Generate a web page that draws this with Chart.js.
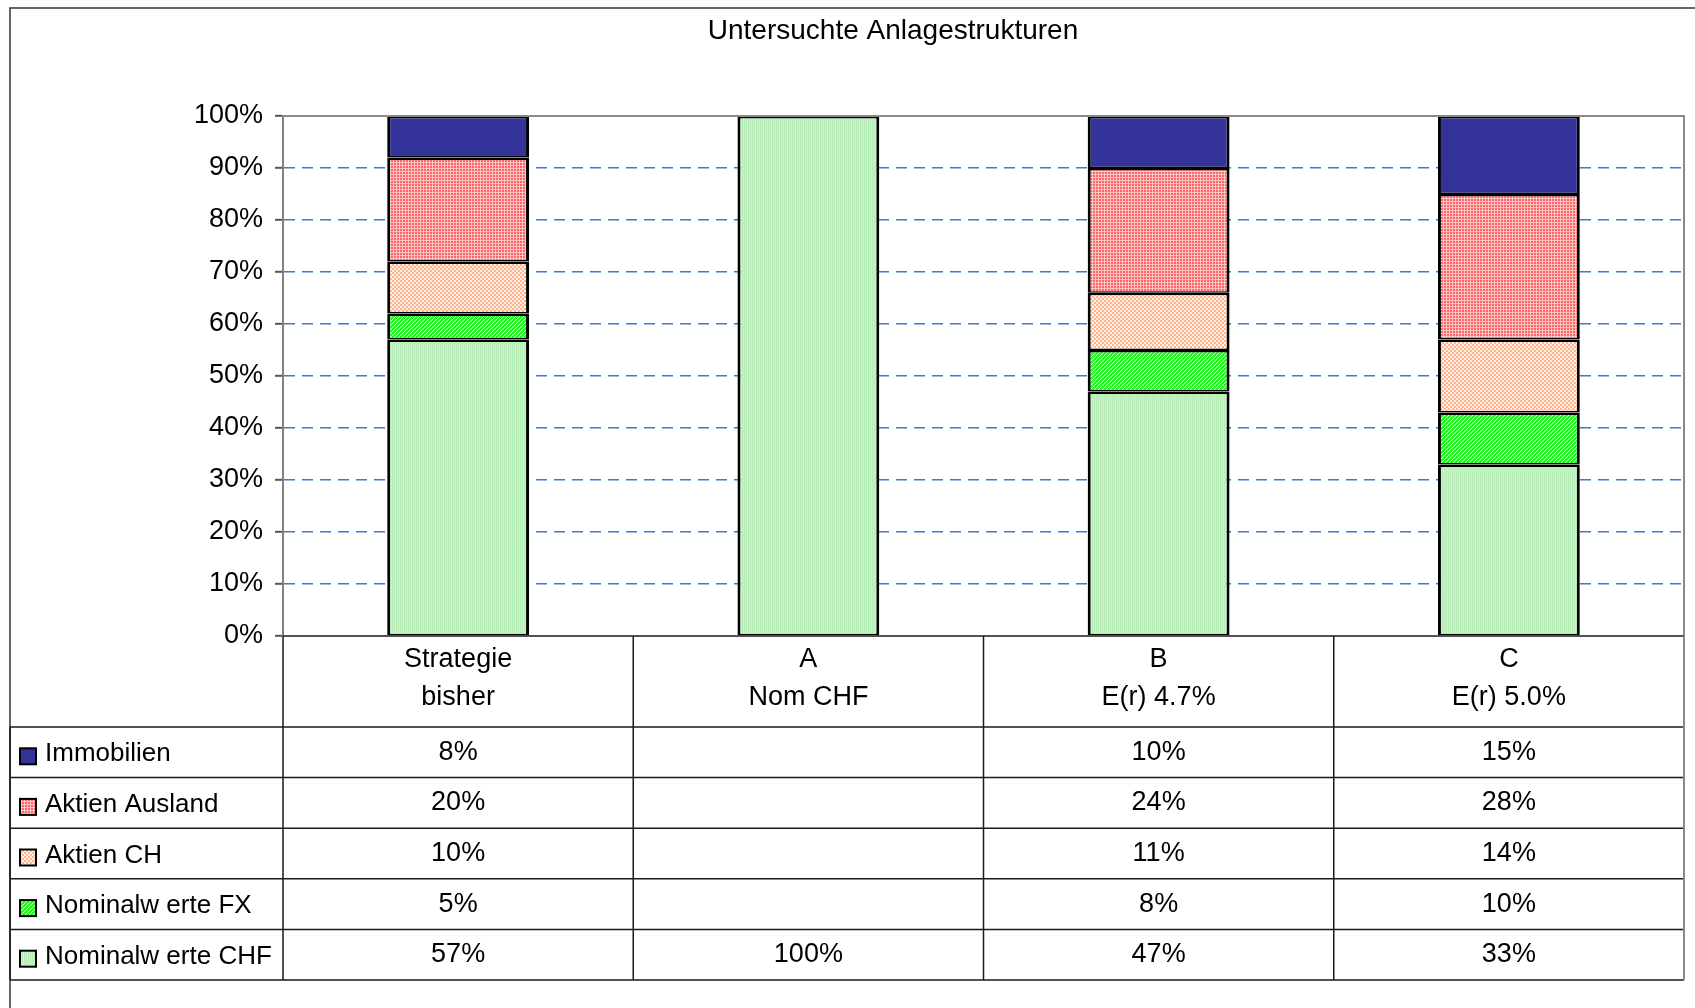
<!DOCTYPE html>
<html>
<head>
<meta charset="utf-8">
<script src="https://cdn.jsdelivr.net/npm/chart.js@4.4.1/dist/chart.umd.min.js"></script>
<style>
  html, body { margin: 0; padding: 0; background: #fff; }
  #wrap { position: relative; width: 1695px; height: 1008px; }
</style>
</head>
<body>
<div id="wrap"><canvas id="chart" width="1695" height="1008"></canvas></div>
<script>
// categories (two lines each) and the table series
const categories = [['Strategie', 'bisher'], ['A', 'Nom CHF'], ['B', 'E(r) 4.7%'], ['C', 'E(r) 5.0%']];
const immobilien = [8, null, 10, 15];
const aktienAusland = [20, null, 24, 28];
const aktienCH = [10, null, 11, 14];
const nominalFX = [5, null, 8, 10];
const nominalCHF = [57, 100, 47, 33];
const chartTitle = 'Untersuchte Anlagestrukturen';
const FAMILY = '"Liberation Sans", Arial, sans-serif';
const FONT = '27px ' + FAMILY;

// small pixel tiles to imitate the Excel fill patterns
function makePattern(w, h, bg, fg, cells) {
    const c = document.createElement('canvas');
    c.width = w; c.height = h;
    const g = c.getContext('2d');
    g.fillStyle = bg;
    g.fillRect(0, 0, w, h);
    g.fillStyle = fg;
    cells.forEach(p => g.fillRect(p[0], p[1], 1, 1));
    return g.createPattern(c, 'repeat');
}

const fillImmo = '#333399';
const fillAusland = makePattern(3, 3, '#ff6464', '#ffc4c4', [[0,0],[1,0],[2,0],[0,1],[0,2]]);
const fillCH = makePattern(4, 4, '#fff0e6', '#ffb68e', [[0,0],[1,0],[0,1],[1,1],[2,2],[3,2],[2,3],[3,3]]);
const fillFX = makePattern(4, 4, '#2ef02e', '#d4ffd4', [[3,0],[2,1],[1,2],[0,3]]);
const fillCHF = makePattern(4, 2, '#c8f5c8', '#a6e3a6', [[0,0],[2,1]]);

// table rows, top to bottom as in the reference
const tableRows = [
    { label: 'Immobilien', values: immobilien, fill: fillImmo },
    { label: 'Aktien Ausland', values: aktienAusland, fill: fillAusland },
    { label: 'Aktien CH', values: aktienCH, fill: fillCH },
    { label: 'Nominalw erte FX', values: nominalFX, fill: fillFX },
    { label: 'Nominalw erte CHF', values: nominalCHF, fill: fillCHF }
];

const barBorder = { top: 2.5, left: 3, right: 3, bottom: 1.5 };
function barSet(row) {
    return {
        label: row.label,
        data: row.values,
        backgroundColor: row.fill,
        borderColor: '#000',
        borderWidth: barBorder,
        borderSkipped: false,
        barPercentage: 0.405,
        categoryPercentage: 1
    };
}

// draws title, plot frame and the data table under the plot
const tablePlugin = {
    id: 'dataTable',
    afterDraw(chart) {
        const ctx = chart.ctx;
        const area = chart.chartArea;
        const x = chart.scales.x;
        const half = (x.getPixelForValue(1) - x.getPixelForValue(0)) / 2;
        const cols = [10, area.left];
        categories.forEach((c, i) => cols.push(x.getPixelForValue(i) + half));
        const headTop = area.bottom;
        const headBottom = 727;
        const rowH = (980 - headBottom) / tableRows.length;
        const tableBottom = headBottom + rowH * tableRows.length;

        ctx.save();
        // outer frame (left + top visible)
        ctx.strokeStyle = '#333';
        ctx.lineWidth = 1.5;
        ctx.beginPath();
        ctx.moveTo(10, 1008); ctx.lineTo(10, 8); ctx.lineTo(1695, 8);
        ctx.stroke();

        // title
        ctx.fillStyle = '#000';
        ctx.font = '28px ' + FAMILY;
        ctx.textAlign = 'center';
        ctx.textBaseline = 'middle';
        ctx.fillText(chartTitle, 893, 31);
        ctx.font = FONT;

        // plot frame top/right
        ctx.strokeStyle = '#8a8a8a';
        ctx.lineWidth = 2;
        ctx.beginPath();
        ctx.moveTo(area.left, area.top); ctx.lineTo(area.right, area.top); ctx.lineTo(area.right, area.bottom);
        ctx.stroke();

        // table grid
        ctx.strokeStyle = '#1a1a1a';
        ctx.lineWidth = 1.5;
        ctx.beginPath();
        ctx.moveTo(area.left, headTop); ctx.lineTo(area.right, headTop);
        for (let r = 0; r <= tableRows.length; r++) {
            const y = headBottom + r * rowH;
            ctx.moveTo(cols[0], y); ctx.lineTo(area.right, y);
        }
        ctx.moveTo(cols[0], headBottom); ctx.lineTo(cols[0], tableBottom);
        for (let c = 1; c < cols.length; c++) {
            ctx.moveTo(cols[c], headTop); ctx.lineTo(cols[c], tableBottom);
        }
        ctx.stroke();
        ctx.strokeStyle = '#8a8a8a';
        ctx.lineWidth = 2;
        ctx.beginPath();
        ctx.moveTo(area.right, headTop); ctx.lineTo(area.right, tableBottom);
        ctx.stroke();

        // category headers
        ctx.fillStyle = '#000';
        categories.forEach((lines, i) => {
            const cx = x.getPixelForValue(i);
            ctx.fillText(lines[0], cx, 660);
            ctx.fillText(lines[1], cx, 698);
        });

        // rows with legend keys
        tableRows.forEach((row, r) => {
            const cy = headBottom + r * rowH + rowH / 2;
            ctx.fillStyle = row.fill;
            ctx.fillRect(20, cy - 4, 16, 16);
            ctx.strokeStyle = '#000';
            ctx.lineWidth = 2;
            ctx.strokeRect(20, cy - 4, 16, 16);
            ctx.fillStyle = '#000';
            ctx.textAlign = 'left';
            ctx.font = '26px ' + FAMILY;
            ctx.fillText(row.label, 45, cy + 2);
            ctx.font = FONT;
            ctx.textAlign = 'center';
            row.values.forEach((v, i) => {
                if (v === null) return;
                ctx.fillText(v + '%', x.getPixelForValue(i), cy);
            });
        });
        ctx.restore();
    }
};

new Chart(document.getElementById('chart'), {
    type: 'bar',
    data: {
        labels: categories.map(c => c.join(' ')),
        datasets: tableRows.slice().reverse().map(barSet)
    },
    options: {
        responsive: false,
        animation: false,
        layout: { padding: { top: 116, left: 0, right: 11, bottom: 372 } },
        plugins: {
            legend: { display: false },
            title: { display: false },
            tooltip: { enabled: false }
        },
        scales: {
            x: { stacked: true, display: false },
            y: {
                stacked: true,
                min: 0,
                max: 100,
                afterFit: scale => { scale.width = 283; },
                ticks: {
                    stepSize: 10,
                    padding: 12,
                    color: '#000',
                    font: { family: FAMILY, size: 27 },
                    callback: v => v + '%'
                },
                grid: {
                    color: c => (c.tick && (c.tick.value === 0 || c.tick.value === 100)) ? 'rgba(0,0,0,0)' : '#3a7bd0',
                    lineWidth: 1.6,
                    tickLength: 8,
                    tickColor: '#555',
                    tickWidth: 2,
                    tickBorderDash: []
                },
                border: { display: true, color: '#808080', width: 2, dash: [11, 7] }
            }
        }
    },
    plugins: [tablePlugin]
});
</script>
</body>
</html>
